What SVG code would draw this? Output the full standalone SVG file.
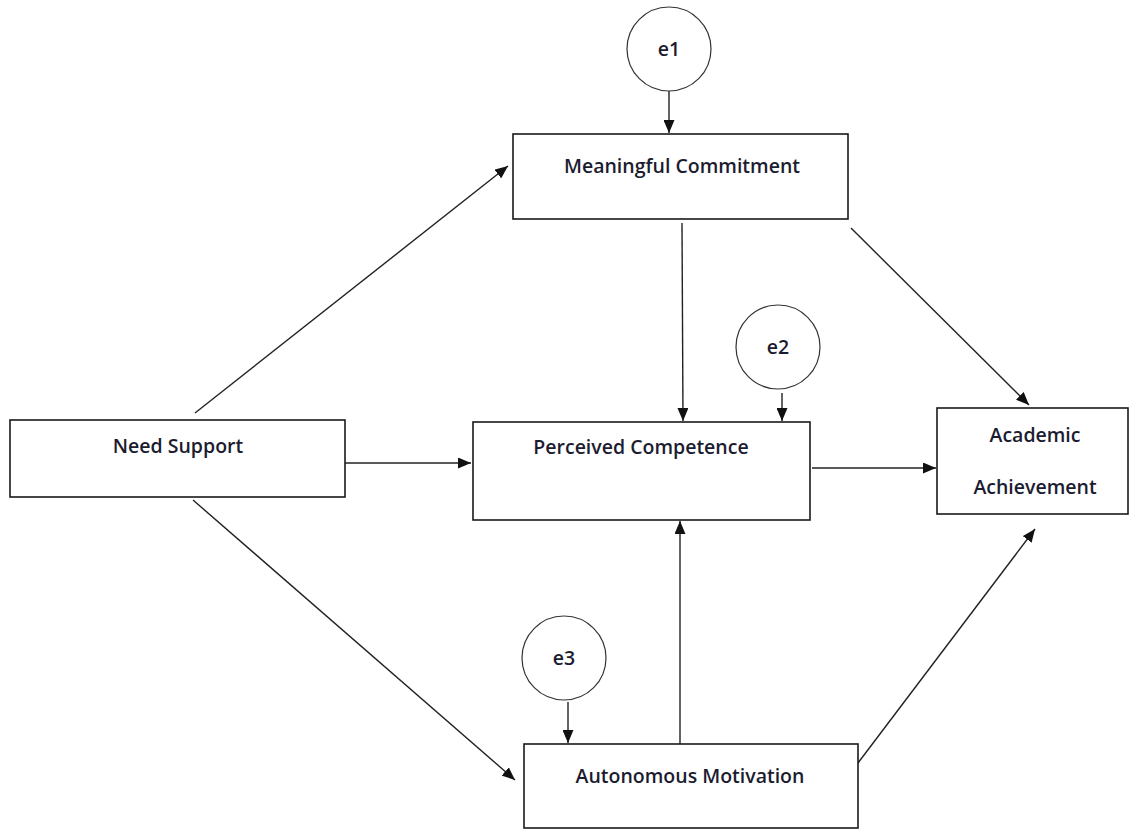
<svg xmlns="http://www.w3.org/2000/svg" width="1131" height="830" viewBox="0 0 1131 830">
  <style>
    .box { fill: #ffffff; stroke: #1a1a1a; stroke-width: 1.6; }
    .err { fill: #ffffff; stroke: #333333; stroke-width: 1.2; }
    .lbl { font-family: "Open Sans", "Noto Sans", "Liberation Sans", sans-serif; font-size: 19.5px; font-weight: 600; fill: #1c1c30; text-anchor: middle; }
    .edge { stroke: #222222; stroke-width: 1.4; fill: none; marker-end: url(#arrow); }
  </style>
  <defs>
    <marker id="arrow" viewBox="0 0 13 11" refX="13" refY="5.5" markerWidth="13" markerHeight="11" markerUnits="userSpaceOnUse" orient="auto">
      <path d="M0,0 L13,5.5 L0,11 Z" fill="#111111"/>
    </marker>
  </defs>
  <rect width="1131" height="830" fill="#ffffff"/>

  <g id="connectors">
    <!-- e-terms into their endogenous variables -->
    <line class="edge" x1="669" y1="91" x2="669" y2="133"/>
    <line class="edge" x1="782" y1="393" x2="782" y2="421"/>
    <line class="edge" x1="568" y1="702" x2="568" y2="743"/>
    <!-- Need Support paths -->
    <line class="edge" x1="195" y1="413" x2="508" y2="166"/>
    <line class="edge" x1="345" y1="463" x2="471" y2="463"/>
    <line class="edge" x1="193" y1="500" x2="515" y2="780"/>
    <!-- mediators -->
    <line class="edge" x1="682" y1="223" x2="683" y2="421"/>
    <line class="edge" x1="680" y1="744" x2="680" y2="521"/>
    <!-- into Academic Achievement -->
    <line class="edge" x1="851" y1="228" x2="1029" y2="405"/>
    <line class="edge" x1="812" y1="468" x2="936" y2="468"/>
    <line class="edge" x1="858" y1="763" x2="1035" y2="529"/>
  </g>

  <g id="e1">
    <circle class="err" cx="669" cy="49" r="42"/>
    <text class="lbl" x="669" y="56">e1</text>
  </g>
  <g id="e2">
    <circle class="err" cx="778" cy="347" r="42"/>
    <text class="lbl" x="778" y="354">e2</text>
  </g>
  <g id="e3">
    <circle class="err" cx="564" cy="658" r="42"/>
    <text class="lbl" x="564" y="665">e3</text>
  </g>

  <g id="meaningful-commitment">
    <rect class="box" x="513" y="134" width="335" height="85"/>
    <text class="lbl" x="682" y="173">Meaningful Commitment</text>
  </g>
  <g id="need-support">
    <rect class="box" x="10" y="420" width="335" height="77"/>
    <text class="lbl" x="178" y="453">Need Support</text>
  </g>
  <g id="perceived-competence">
    <rect class="box" x="473" y="422" width="337" height="98"/>
    <text class="lbl" x="641" y="454">Perceived Competence</text>
  </g>
  <g id="academic-achievement">
    <rect class="box" x="937" y="408" width="191" height="106"/>
    <text class="lbl" x="1035" y="442">Academic</text>
    <text class="lbl" x="1035" y="494">Achievement</text>
  </g>
  <g id="autonomous-motivation">
    <rect class="box" x="524" y="744" width="334" height="84"/>
    <text class="lbl" x="690" y="783">Autonomous Motivation</text>
  </g>
</svg>
